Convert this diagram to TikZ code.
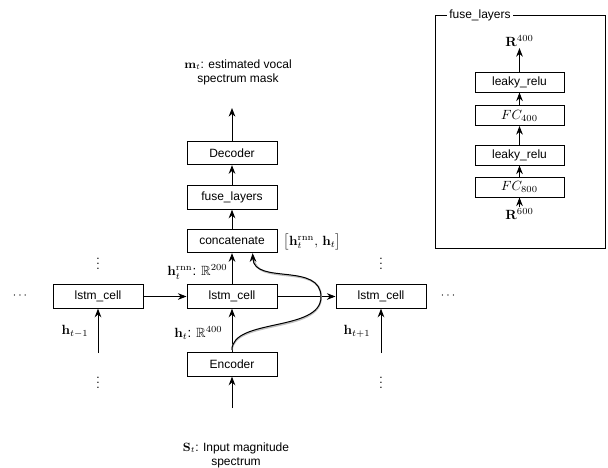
\documentclass[tikz,border=0pt]{standalone}
\usepackage{amssymb}
\usepackage[no-math]{fontspec}
\setmainfont{Liberation Sans}
\usetikzlibrary{arrows.meta}
\begin{document}
\begin{tikzpicture}[x=0.75pt,y=-0.75pt,
  font=\fontsize{9}{10.5}\selectfont,
  blk/.style={draw,line width=0.75pt,minimum width=67.5pt,minimum height=17.5pt,inner sep=0pt},
  sblk/.style={draw,line width=0.75pt,minimum width=66.75pt,minimum height=15pt,inner sep=0pt},
  conn/.style={line width=0.75pt,-{Stealth[length=6.5pt,width=5pt]}},
  lbl/.style={inner sep=1pt},
  mlbl/.style={inner sep=1pt,font=\fontsize{10}{12}\selectfont},
  dots/.style={inner sep=0pt}]
\useasboundingbox (0,0) rectangle (608,468);

% main column
\node[blk] (dec)  at (232,153)   {Decoder};
\node[blk] (fuse) at (232,197.5) {fuse\_layers};
\node[blk] (cat)  at (232,241)   {concatenate};
\node[blk] (lstm) at (232,296.5) {lstm\_cell};
\node[blk] (enc)  at (232,364.5) {Encoder};

% neighbouring time steps
\node[blk] (lstmL) at (98,296.5)  {lstm\_cell};
\node[blk] (lstmR) at (381,296.5) {lstm\_cell};

\coordinate (out) at (232,108);
\coordinate (in)  at (232,408);
\coordinate (inL) at (98,353);
\coordinate (inR) at (381,353);

% texts
\node[lbl,align=center] (mask) at (238,72)
  {$\mathbf{m}_t$: estimated vocal\\spectrum mask};
\node[lbl,align=center] (spec) at (236,455)
  {$\mathbf{S}_t$: Input magnitude\\spectrum};
\node[mlbl,anchor=east] (hrnn) at (229,272) {$\mathbf{h}_t^{\mathrm{rnn}}$: $\mathbb{R}^{200}$};
\node[mlbl,anchor=east] (ht)   at (224,333) {$\mathbf{h}_t$: $\mathbb{R}^{400}$};
\node[mlbl,anchor=west] (pair) at (282,242) {$\bigl[\mathbf{h}_t^{\mathrm{rnn}},\,\mathbf{h}_t\bigr]$};
\node[mlbl] (hm) at (75,331)  {$\mathbf{h}_{t-1}$};
\node[mlbl] (hp) at (357,331) {$\mathbf{h}_{t+1}$};

% ellipses
\node[dots] (vdL1) at (98,260)  {$\vdots$};
\node[dots] (vdL2) at (98,379)  {$\vdots$};
\node[dots] (vdR1) at (381,260) {$\vdots$};
\node[dots] (vdR2) at (381,379) {$\vdots$};
\node[dots] (hdL)  at (20,296)  {$\cdots$};
\node[dots] (hdR)  at (448,296) {$\cdots$};

% connectors
\draw[conn] (in) -- (enc.south);
\draw[conn] (enc.north) -- (lstm.south);
\draw[conn] (lstm.north) -- (cat.south);
\draw[conn] (cat.north) -- (fuse.south);
\draw[conn] (fuse.north) -- (dec.south);
\draw[conn] (dec.north) -- (out);
\draw[conn] (lstmL.east) -- (lstm.west);
\draw[conn] (lstm.east) -- (lstmR.west);
\draw[conn] (inL) -- (lstmL.south);
\draw[conn] (inR) -- (lstmR.south);

% skip connection from the encoder output to concatenate
\coordinate (skipA) at (232,350);
\coordinate (skipB) at (321,297);
\coordinate (skipC) at ([xshift=15.5pt]cat.south);
\draw[line width=1.4pt,black!25,shift={(1.2,1.2)}]
  (skipA) .. controls (232,318) and (321,332) .. (skipB)
  .. controls (321,262) and (254,285) .. (253,258);
\draw[conn] (skipA) .. controls (232,318) and (321,332) .. (skipB)
  .. controls (321,262) and (254,285) .. (skipC);

% fuse_layers detail
\draw[line width=0.75pt] (435,15) rectangle (605,248);
\node[fill=white,inner sep=1.5pt,anchor=west] (ftitle) at (447,15) {fuse\_layers};
\node[sblk,font=\fontsize{10}{12}\selectfont] (lr2)  at (519.5,82)    {\fontsize{9}{10.5}\selectfont leaky\_relu};
\node[sblk,font=\fontsize{10}{12}\selectfont] (fc4)  at (519.5,115.5) {$FC_{400}$};
\node[sblk,font=\fontsize{10}{12}\selectfont] (lr1)  at (519.5,155)   {\fontsize{9}{10.5}\selectfont leaky\_relu};
\node[sblk,font=\fontsize{10}{12}\selectfont] (fc8)  at (519.5,187)   {$FC_{800}$};
\node[mlbl] (r600) at (519.5,214) {$\mathbf{R}^{600}$};
\node[mlbl] (r400) at (519.5,41)  {$\mathbf{R}^{400}$};
\draw[conn] (r600) -- (fc8.south);
\draw[conn] (fc8.north) -- (lr1.south);
\draw[conn] (lr1.north) -- (fc4.south);
\draw[conn] (fc4.north) -- (lr2.south);
\draw[conn] (lr2.north) -- (r400);
\end{tikzpicture}
\end{document}
